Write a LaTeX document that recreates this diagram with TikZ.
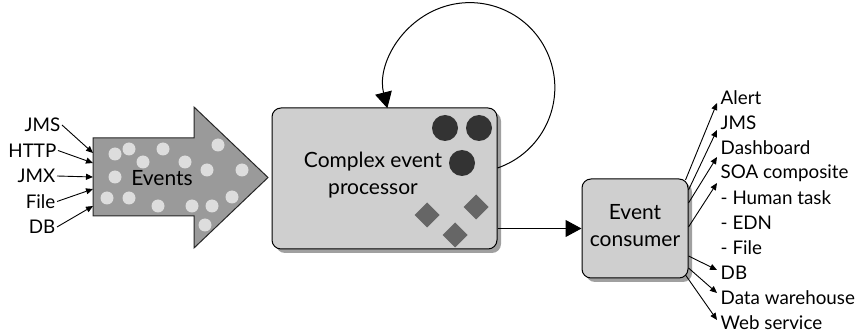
\documentclass[tikz,border=0pt]{standalone}
\usepackage{fontspec}
\setmainfont{Lato}
\usetikzlibrary{arrows.meta,shadows}
\definecolor{arrowgray}{HTML}{9A9A9A}
\definecolor{boxgray}{HTML}{CFCFCF}
\definecolor{shadowgray}{HTML}{A0A0A0}
\definecolor{dotgray}{HTML}{DDDDDD}
\definecolor{darkdot}{HTML}{333333}
\definecolor{diamondgray}{HTML}{666666}
\begin{document}
\begin{tikzpicture}[x=1pt,y=1pt,
  lbl/.style={font=\fontsize{18.8}{20}\selectfont, inner sep=1.5pt},
  bigtext/.style={font=\fontsize{21}{27}\selectfont, align=center, inner sep=0pt},
  box/.style={draw=black, line width=1pt, fill=boxgray, rounded corners=9pt,
    drop shadow={shadow xshift=4pt, shadow yshift=-4pt, fill=shadowgray, opacity=1}},
  smallarrow/.style={line width=0.9pt, -{Triangle[length=7pt,width=6pt]}},
  bigarrow/.style={line width=1pt, -{Triangle[length=16pt,width=17pt]}},
  lightdot/.style={fill=dotgray},
  darkball/.style={fill=darkdot},
  diam/.style={fill=diamondgray}]
\useasboundingbox (0,0) rectangle (855,335);

% Events arrow
\filldraw[fill=arrowgray, draw=black!85, line width=1pt, line join=miter]
  (93,197) -- (194,197) -- (194,228) -- (268,157.5) -- (194,87) -- (194,119) -- (93,119) -- cycle;
\coordinate (evL) at (93,158);
\foreach \p in {(115,181),(129,186),(163,186),(218,190),(143,173),(185,173),(207,165),(242,165),
  (115,158),(107,137),(129,137),(158,129),(192,129),(212,129),(232,138),(205,110)}
  \fill[lightdot] \p circle (6.5);
\node[lbl, font=\fontsize{21}{22}\selectfont] (events) at (162,157) {Events};

% input labels
\node[lbl, anchor=east] (inJMS) at (62,210) {JMS};
\node[lbl, anchor=east] (inHTTP) at (58,184.5) {HTTP};
\node[lbl, anchor=east] (inJMX) at (57,159) {JMX};
\node[lbl, anchor=east] (inFile) at (57,133.5) {File};
\node[lbl, anchor=east] (inDB) at (57,108) {DB};
\draw[smallarrow] (inJMS.east) -- ([yshift=24pt]evL);
\draw[smallarrow] (inHTTP.east) -- ([yshift=14pt]evL);
\draw[smallarrow] (inJMX.east) -- (evL);
\draw[smallarrow] (inFile.east) -- ([yshift=-12pt]evL);
\draw[smallarrow] (inDB.east) -- ([yshift=-29pt]evL);

% Complex event processor
\node[box, minimum width=225pt, minimum height=141pt] (cep) at (384.5,156.5) {};
\node[bigtext] (ceptext) at (373,160) {Complex event\\processor};
\fill[darkball] (445,207) circle (13);
\fill[darkball] (479,207) circle (13);
\fill[darkball] (462,172) circle (13);
\foreach \p in {(427,120),(476,128),(455,100)}
  \fill[diam] \p ++(0,12.5) -- ++(12.5,-12.5) -- ++(-12.5,-12.5) -- ++(-12.5,12.5) -- cycle;

% loop
\draw[bigarrow] ([yshift=10.5pt]cep.east) arc[start angle=-71, end angle=194, radius=85];

% Event consumer
\node[box, minimum width=106pt, minimum height=99pt] (ec) at (635,106.5) {};
\node[bigtext] (ectext) at (635,109) {Event\\consumer};
\draw[bigarrow] (cep.east |- ec.west) -- (ec.west);

% output labels
\node[lbl, anchor=west] (oAlert) at (719,237) {Alert};
\node[lbl, anchor=west] (oJMS) at (719,212) {JMS};
\node[lbl, anchor=west] (oDash) at (719,187) {Dashboard};
\node[lbl, anchor=west] (oSOA) at (719,162) {SOA composite};
\node[lbl, anchor=west] (oHT) at (719,137) {- Human task};
\node[lbl, anchor=west] (oEDN) at (719,112) {- EDN};
\node[lbl, anchor=west] (oFile) at (719,87) {- File};
\node[lbl, anchor=west] (oDB) at (719,62) {DB};
\node[lbl, anchor=west] (oDW) at (719,37) {Data warehouse};
\node[lbl, anchor=west] (oWS) at (719,12) {Web service};

\draw[smallarrow] ([xshift=-3pt,yshift=48.5pt]ec.east) -- ([xshift=-2pt,yshift=-5pt]oAlert.west);
\draw[smallarrow] ([yshift=38.5pt]ec.east) -- ([xshift=-2pt,yshift=-7pt]oJMS.west);
\draw[smallarrow] ([yshift=25.5pt]ec.east) -- ([xshift=-2pt,yshift=-9pt]oDash.west);
\draw[smallarrow] ([yshift=1.5pt]ec.east) -- ([xshift=-2pt,yshift=-10pt]oSOA.west);
\draw[smallarrow] ([yshift=-27.5pt]ec.east) -- ([xshift=-2pt,yshift=3pt]oDB.west);
\draw[smallarrow] ([yshift=-39.5pt]ec.east) -- ([xshift=-2pt,yshift=5pt]oDW.west);
\draw[smallarrow] ([xshift=-3pt,yshift=-46.5pt]ec.east) -- ([xshift=-2pt,yshift=3pt]oWS.west);
\end{tikzpicture}
\end{document}
